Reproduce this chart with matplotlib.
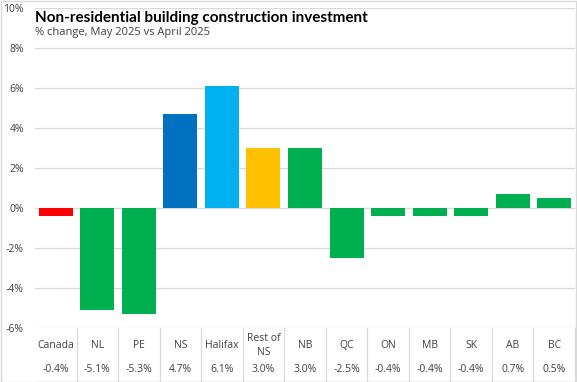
import matplotlib.pyplot as plt
from matplotlib.patches import Rectangle
from matplotlib.transforms import blended_transform_factory

# data
regions = ['Canada', 'NL', 'PE', 'NS', 'Halifax', 'Rest of\nNS', 'NB',
           'QC', 'ON', 'MB', 'SK', 'AB', 'BC']
pct_change = [-0.4, -5.1, -5.3, 4.7, 6.1, 3.0, 3.0, -2.5, -0.4, -0.4, -0.4, 0.7, 0.5]
bar_colors = ['#FF0000', '#00B050', '#00B050', '#0070C0', '#00B0F0', '#FFC000',
              '#00B050', '#00B050', '#00B050', '#00B050', '#00B050', '#00B050', '#00B050']
y_ticks = [-6, -4, -2, 0, 2, 4, 6, 8, 10]

plt.rcParams['font.family'] = ['Open Sans', 'DejaVu Sans']
txt = '#404040'
grid_c = '#D9D9D9'

fig = plt.figure(figsize=(5.77, 3.82), dpi=100)
ax = fig.add_axes([35 / 577, 54 / 382, 540 / 577, 320 / 382])

x = list(range(len(regions)))
ax.bar(x, pct_change, width=0.82, color=bar_colors, zorder=3)

ax.set_xlim(-0.5, len(regions) - 0.5)
ax.set_ylim(-6, 10)
ax.set_yticks(y_ticks)
ax.set_yticklabels([f'{v}%' for v in y_ticks], fontsize=7.5, color=txt)
ax.tick_params(axis='y', length=0, pad=8)
ax.set_xticks([])
ax.grid(axis='y', color=grid_c, linewidth=0.9, zorder=0)
for s in ax.spines.values():
    s.set_visible(False)

# table under the chart
trans = blended_transform_factory(ax.transData, ax.transAxes)
for i, (name, val) in enumerate(zip(regions, pct_change)):
    ax.text(i, -0.055, name, transform=trans, ha='center', va='center',
            fontsize=7.5, color=txt, linespacing=1.3)
    ax.text(i, -0.131, f'{val:.1f}%', transform=trans, ha='center', va='center',
            fontsize=7.5, color=txt)
for i in range(len(regions)):
    ax.plot([i + 0.5, i + 0.5], [0, -0.17], transform=trans, color=grid_c,
            linewidth=0.9, clip_on=False)
ax.plot([-0.5, len(regions) - 0.5], [-0.168, -0.168], transform=trans,
        color=grid_c, linewidth=0.9, clip_on=False)

# title block
fig.text(35 / 577, 1 - 18 / 382, 'Non-residential building construction investment',
         fontsize=11, fontweight='bold', family=['Lato', 'DejaVu Sans'],
         color='black', va='center', ha='left')
fig.text(35 / 577, 1 - 33 / 382, '% change, May 2025 vs April 2025',
         fontsize=8, color=txt, va='center', ha='left')

fig.patches.append(Rectangle((0.001, 0.001), 0.997, 0.997, transform=fig.transFigure,
                             fill=False, edgecolor=grid_c, linewidth=1))

fig.savefig('out.png', dpi=100)
